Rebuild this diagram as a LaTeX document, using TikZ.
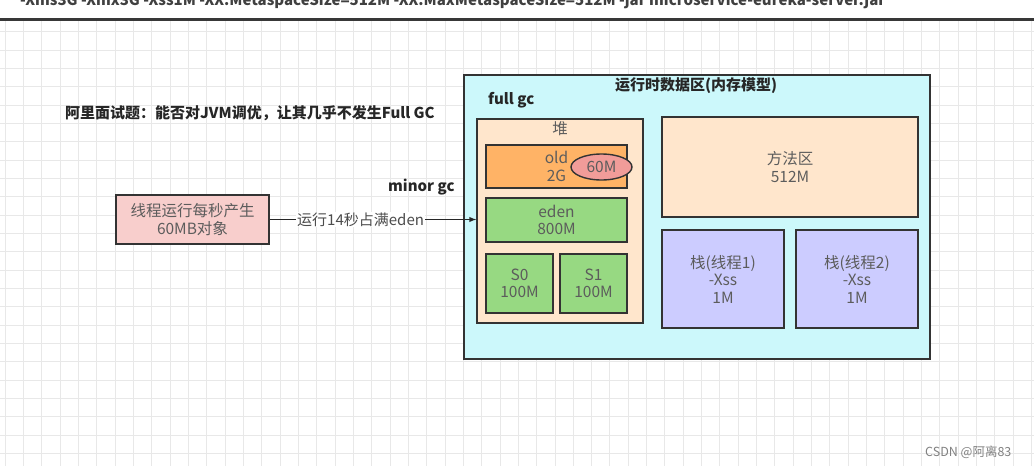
\documentclass[tikz,border=0pt]{standalone}
\usepackage{fontspec}
\setmainfont{Noto Sans CJK SC}
\usetikzlibrary{shapes,arrows.meta,positioning}
\tikzset{>=latex}
\definecolor{gridline}{HTML}{E8E8E8}
\definecolor{runtimefill}{HTML}{CCF8FB}
\definecolor{heapfill}{HTML}{FFE6CC}
\definecolor{oldfill}{HTML}{FFB366}
\definecolor{edenfill}{HTML}{97D982}
\definecolor{stackfill}{HTML}{CCCCFF}
\definecolor{threadfill}{HTML}{F8CECC}
\definecolor{objfill}{HTML}{F19C99}
\tikzset{
  box/.style={draw=black!80,line width=1.4pt,align=center,text=black!64,inner sep=0pt,
    font=\fontsize{15.5}{17.5}\selectfont},
  lab/.style={font=\bfseries\fontsize{15}{18}\selectfont,text=black!85,inner sep=0pt},
}

\begin{document}
\begin{tikzpicture}[x=1pt,y=-1pt]
    \useasboundingbox (0,0) rectangle (1034,466);
    \clip (0,0) rectangle (1034,466);
    % background grid
    \foreach \i in {0,...,56}
      \draw [gridline,line width=0.8pt] ({5+18.33*\i},21) -- ++(0,445);
    \foreach \j in {0,...,24}
      \draw [gridline,line width=0.8pt] (0,{31.7+18.33*\j}) -- ++(1034,0);
    \node [anchor=base west,font=\bfseries\fontsize{15}{18}\selectfont,text=black!75,inner sep=0pt] (cmd) at (20,5)
      {-Xms3G -Xmx3G -Xss1M -XX:MetaspaceSize=512M -XX:MaxMetaspaceSize=512M -jar microservice-eureka-server.jar};
    \draw [black!78,line width=2.4pt] (0,19.5) -- (1034,19.5);
    % question and thread
    \node [lab,anchor=west] (question) at (65,113) {阿里面试题：能否对JVM调优，让其几乎不发生Full GC};
    \node [box,fill=threadfill,minimum width=153,minimum height=49] (thread) at (192.5,219.5) {线程运行每秒产生\\60MB对象};
    \node [lab,anchor=west] (minorgc) at (388,187) {minor gc};
    % runtime data area
    \node [box,fill=runtimefill,minimum width=466,minimum height=284] (runtime) at (697,217) {};
    \node [lab,anchor=west] (runtimelabel) at (615,86) {运行时数据区(内存模型)};
    \node [lab,anchor=west] (fullgc) at (488,100) {full gc};
    \node [box,fill=heapfill,minimum width=166,minimum height=204] (heap) at (560,221) {};
    \node [box,draw=none,below=3pt of heap.north] (heaplabel) {堆};
    \node [box,fill=oldfill,minimum width=141,minimum height=43] (old) at (556.5,166.5) {old\\2G};
    \node [box,ellipse,fill=objfill,minimum width=61,minimum height=26] (obj) at (601.5,167) {60M};
    \node [box,fill=edenfill,minimum width=141,minimum height=44] (eden) at (556.5,220) {eden\\800M};
    \node [box,fill=edenfill,minimum width=67,minimum height=59] (s0) at (519.5,283.5) {S0\\100M};
    \node [box,fill=edenfill,minimum width=67,minimum height=59] (s1) at (593.5,283.5) {S1\\100M};
    \node [box,fill=heapfill,minimum width=256,minimum height=100] (method) at (790,167) {方法区\\512M};
    \node [box,fill=stackfill,minimum width=122,minimum height=98] (stack1) at (723,279) {栈(线程1)\\-Xss\\1M};
    \node [box,fill=stackfill,minimum width=122,minimum height=98] (stack2) at (857,279) {栈(线程2)\\-Xss\\1M};
    % thread fills eden
    \draw [->,black!85,line width=1.4pt] (thread) -- (thread -| heap.west)
      node [pos=0.44,fill=white,inner sep=1pt,text=black!70,font=\fontsize{15}{17}\selectfont] {运行14秒占满eden};
    \node [anchor=west,text=black!50,inner sep=0pt,font=\fontsize{12.5}{15}\selectfont] (mark) at (925,452) {CSDN @阿离83};
  \end{tikzpicture}
\end{document}
